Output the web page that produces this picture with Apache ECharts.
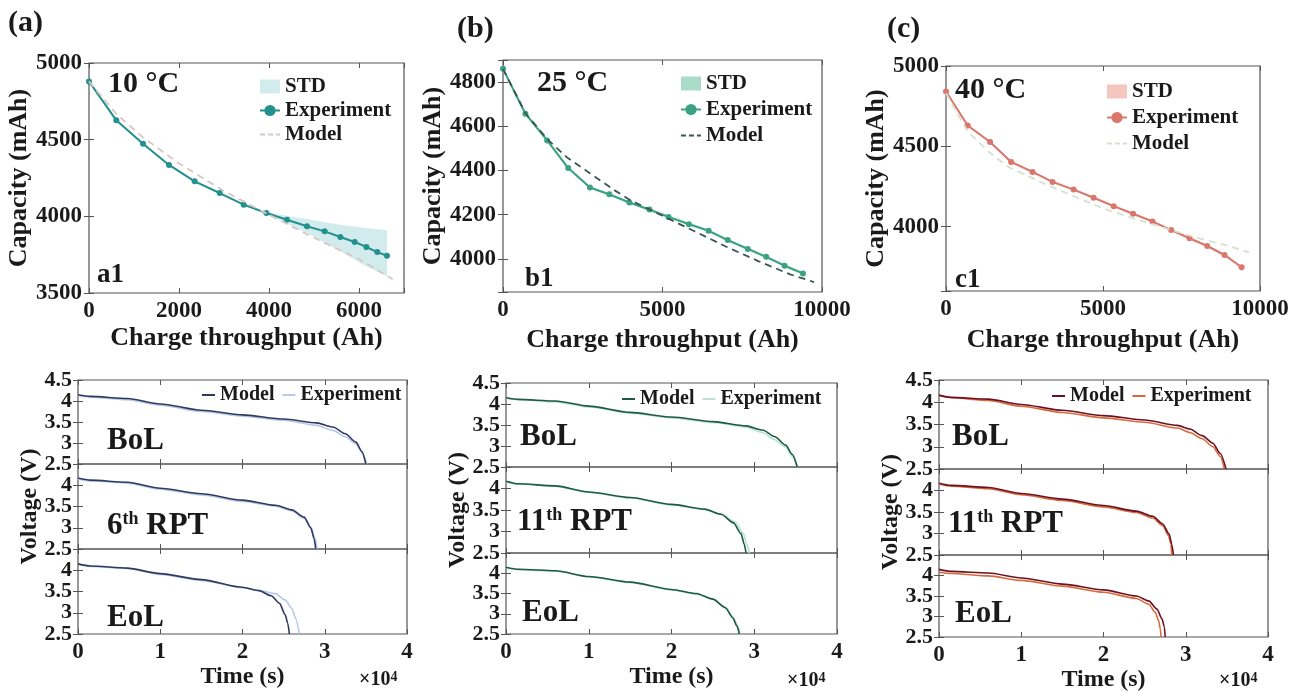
<!DOCTYPE html>
<html>
<head>
<meta charset="utf-8">
<script src="https://cdn.jsdelivr.net/npm/echarts@6/dist/echarts.min.js"></script>
<style>
html, body { margin: 0; padding: 0; background: #fff; }
#main { width: 1292px; height: 692px; }
</style>
</head>
<body>
<div id="main"></div>
<script>
// ---- capacity fade (top row) ----
var aThru = [0, 607, 1200, 1778, 2348, 2904, 3437, 3941, 4400, 4844, 5237, 5585, 5904, 6163, 6407, 6622];
var aExp = [4880, 4626, 4474, 4335, 4228, 4152, 4076, 4022, 3978, 3935, 3902, 3865, 3833, 3800, 3767, 3743];
var aStdHi = [4885, 4631, 4479, 4340, 4233, 4157, 4081, 4027, 4004, 3983, 3961, 3945, 3933, 3924, 3916, 3910];
var aStdLo = [4875, 4621, 4469, 4330, 4223, 4147, 4071, 4017, 3952, 3891, 3826, 3772, 3717, 3674, 3641, 3609];
var aModelThru = [0, 600, 1200, 2000, 3000, 4000, 5000, 6000, 6750];
var aModel = [4880, 4670, 4515, 4345, 4165, 4010, 3860, 3720, 3590];

var bThru = [0, 702, 1384, 2044, 2725, 3333, 3962, 4591, 5189, 5828, 6447, 7044, 7673, 8250, 8826, 9403];
var bExp = [4860, 4657, 4536, 4411, 4323, 4292, 4255, 4223, 4190, 4157, 4127, 4085, 4045, 4009, 3969, 3934];
var bStdHi = [4866, 4663, 4542, 4417, 4329, 4298, 4261, 4229, 4196, 4163, 4133, 4091, 4051, 4015, 3975, 3940];
var bStdLo = [4854, 4651, 4530, 4405, 4317, 4286, 4249, 4217, 4184, 4151, 4121, 4079, 4039, 4003, 3963, 3928];
var bModelThru = [0, 700, 1400, 2000, 2700, 3500, 4000, 5000, 6000, 7000, 8000, 9000, 9750];
var bModel = [4860, 4660, 4540, 4460, 4390, 4310, 4265, 4195, 4125, 4055, 3990, 3930, 3895];

var cThru = [0, 691, 1404, 2074, 2755, 3394, 4064, 4702, 5340, 5957, 6574, 7170, 7755, 8319, 8872, 9415];
var cExp = [4841, 4630, 4527, 4403, 4341, 4279, 4231, 4180, 4128, 4081, 4033, 3979, 3928, 3880, 3824, 3748];
var cStdHi = [4847, 4636, 4533, 4409, 4347, 4285, 4237, 4186, 4134, 4087, 4039, 3985, 3934, 3886, 3830, 3756];
var cStdLo = [4835, 4624, 4521, 4397, 4335, 4273, 4225, 4174, 4122, 4075, 4027, 3973, 3922, 3874, 3818, 3740];
var cModelThru = [0, 700, 1400, 2000, 3000, 4000, 5000, 6000, 7000, 8000, 9000, 9650];
var cModel = [4830, 4590, 4460, 4370, 4280, 4195, 4115, 4050, 3990, 3930, 3880, 3840];

// ---- discharge voltage (bottom row), [time (x1e4 s), V] ----
var aBoLModel = [[0,4.15],[0.15,4.11],[0.6,4.06],[1.0,3.93],[1.5,3.78],[2.0,3.67],[2.5,3.57],[2.9,3.48],[3.1,3.38],[3.25,3.22],[3.38,3.02],[3.45,2.8],[3.5,2.5]];
var aBoLExp = [[0,4.13],[0.15,4.09],[0.6,4.03],[1.0,3.9],[1.5,3.75],[2.0,3.64],[2.5,3.54],[2.9,3.42],[3.1,3.3],[3.25,3.15],[3.38,2.98],[3.46,2.75],[3.51,2.5]];
var aMidModel = [[0,4.17],[0.15,4.12],[0.6,4.07],[1.0,3.93],[1.5,3.8],[2.0,3.65],[2.4,3.53],[2.6,3.42],[2.75,3.25],[2.83,3.0],[2.87,2.75],[2.89,2.5]];
var aMidExp = [[0,4.15],[0.15,4.1],[0.6,4.05],[1.0,3.91],[1.5,3.77],[2.0,3.62],[2.4,3.51],[2.6,3.4],[2.75,3.22],[2.84,2.98],[2.88,2.75],[2.91,2.5]];
var aEoLModel = [[0,4.15],[0.15,4.1],[0.6,4.05],[1.0,3.92],[1.5,3.78],[2.0,3.6],[2.2,3.52],[2.35,3.4],[2.45,3.22],[2.52,2.95],[2.55,2.75],[2.57,2.5]];
var aEoLExp = [[0,4.14],[0.15,4.09],[0.6,4.04],[1.0,3.9],[1.5,3.76],[2.0,3.59],[2.2,3.53],[2.4,3.45],[2.52,3.3],[2.6,3.1],[2.65,2.85],[2.69,2.5]];

var bBoLModel = [[0,4.15],[0.15,4.11],[0.6,4.07],[1.0,3.95],[1.5,3.8],[2.0,3.69],[2.5,3.58],[2.9,3.48],[3.1,3.38],[3.25,3.22],[3.38,3.02],[3.46,2.8],[3.52,2.5]];
var bBoLExp = [[0,4.14],[0.15,4.1],[0.6,4.05],[1.0,3.93],[1.5,3.78],[2.0,3.67],[2.5,3.56],[2.9,3.45],[3.1,3.32],[3.25,3.15],[3.38,2.97],[3.46,2.75],[3.52,2.5]];
var bMidModel = [[0,4.17],[0.15,4.11],[0.6,4.06],[1.0,3.92],[1.5,3.79],[2.0,3.63],[2.4,3.52],[2.6,3.4],[2.75,3.2],[2.84,2.95],[2.88,2.7],[2.9,2.5]];
var bMidExp = [[0,4.16],[0.15,4.1],[0.6,4.05],[1.0,3.91],[1.5,3.78],[2.0,3.62],[2.4,3.51],[2.6,3.4],[2.77,3.22],[2.87,2.95],[2.91,2.7],[2.94,2.5]];
var bEoLModel = [[0,4.15],[0.15,4.1],[0.6,4.06],[1.0,3.92],[1.5,3.78],[2.0,3.6],[2.3,3.5],[2.5,3.36],[2.65,3.15],[2.74,2.9],[2.79,2.7],[2.82,2.5]];
var bEoLExp = [[0,4.14],[0.15,4.09],[0.6,4.05],[1.0,3.91],[1.5,3.77],[2.0,3.59],[2.3,3.49],[2.5,3.36],[2.66,3.15],[2.75,2.9],[2.8,2.7],[2.83,2.5]];

var cBoLModel = [[0,4.16],[0.15,4.11],[0.6,4.07],[1.0,3.95],[1.5,3.82],[2.0,3.7],[2.5,3.6],[2.9,3.48],[3.05,3.4],[3.2,3.25],[3.33,3.08],[3.42,2.85],[3.49,2.5]];
var cBoLExp = [[0,4.15],[0.15,4.1],[0.6,4.04],[1.0,3.91],[1.5,3.77],[2.0,3.65],[2.5,3.55],[2.9,3.42],[3.05,3.32],[3.2,3.18],[3.33,3.0],[3.42,2.78],[3.47,2.5]];
var cMidModel = [[0,4.17],[0.15,4.12],[0.6,4.07],[1.0,3.93],[1.5,3.8],[2.0,3.65],[2.4,3.52],[2.6,3.4],[2.72,3.22],[2.8,2.98],[2.83,2.75],[2.85,2.5]];
var cMidExp = [[0,4.15],[0.15,4.1],[0.6,4.04],[1.0,3.9],[1.5,3.77],[2.0,3.62],[2.4,3.49],[2.6,3.36],[2.72,3.18],[2.79,2.95],[2.82,2.75],[2.83,2.5]];
var cEoLModel = [[0,4.15],[0.15,4.1],[0.6,4.06],[1.0,3.94],[1.5,3.79],[2.0,3.65],[2.4,3.5],[2.55,3.38],[2.65,3.18],[2.71,2.95],[2.74,2.75],[2.75,2.5]];
var cEoLExp = [[0,4.08],[0.15,4.05],[0.6,3.99],[1.0,3.88],[1.5,3.74],[2.0,3.59],[2.4,3.44],[2.55,3.3],[2.63,3.1],[2.67,2.9],[2.69,2.7],[2.7,2.5]];

var FONT = 'Liberation Serif';
var INK = '#1a1a1a';
var FRAME = '#555';
var HIDDEN = { color: 'rgba(0,0,0,0)', borderColor: 'rgba(0,0,0,0)', borderWidth: 0 };

var option = {
    animation: false,
    backgroundColor: '#fff',
    textStyle: { fontFamily: FONT },
    grid: [], xAxis: [], yAxis: [], series: [], legend: [], graphic: []
};

function pairs(xs, ys) {
    return xs.map(function (x, i) { return [x, ys[i]]; });
}

function stripTag(name) { return name.split('|')[0]; }

// one boxed axes (MATLAB style): ticks inside on all four sides
function addAxes(box, xa, ya, labelAxes) {
    var gi = option.grid.length;
    option.grid.push({ left: box[0], top: box[1], width: box[2], height: box[3], show: true,
        borderColor: FRAME, borderWidth: 1.2, backgroundColor: 'transparent', outerBoundsMode: 'none' });
    function base(extra, pos) {
        var ax = { type: 'value', gridIndex: gi, position: pos, axisLine: { show: false }, splitLine: { show: false },
            axisTick: { inside: true, length: 5, lineStyle: { color: FRAME } } };
        for (var k in extra) ax[k] = extra[k];
        return ax;
    }
    function mirror(a) {
        return { min: a.min, max: a.max, interval: a.interval, minInterval: a.minInterval, maxInterval: a.maxInterval,
            axisLabel: { show: false } };
    }
    var xi = option.xAxis.length, yi = option.yAxis.length;
    option.xAxis.push(base(xa, 'bottom'));
    option.xAxis.push(base(mirror(xa), 'top'));
    option.yAxis.push(base(ya, 'left'));
    option.yAxis.push(base(mirror(ya), 'right'));
    // label-only y axes (no ticks) sharing the same range
    (labelAxes || []).forEach(function (la) {
        var ax = base(la, 'left');
        ax.axisTick = { show: false };
        option.yAxis.push(ax);
    });
    return { x: xi, y: yi };
}

function label(size, margin, fmt) {
    return { show: true, color: INK, fontFamily: FONT, fontWeight: 'bold', fontSize: size, margin: margin,
        formatter: fmt || function (v) { return String(v); },
        showMinLabel: true, showMaxLabel: true, hideOverlap: false };
}

function axisName(text, gap, size) {
    return { name: text, nameLocation: 'middle', nameGap: gap,
        nameTextStyle: { color: INK, fontFamily: FONT, fontWeight: 'bold', fontSize: size } };
}

function merge(a, b) { for (var k in b) a[k] = b[k]; return a; }

function bandSeries(name, ax, xs, lo, hi, color) {
    return { type: 'custom', name: name, xAxisIndex: ax.x, yAxisIndex: ax.y, silent: true, z: 1,
        itemStyle: { color: color }, data: pairs(xs, hi),
        renderItem: function (params, api) {
            if (params.dataIndex !== 0) return null;
            var pts = [];
            for (var i = 0; i < xs.length; i++) pts.push(api.coord([xs[i], hi[i]]));
            for (var j = xs.length - 1; j >= 0; j--) pts.push(api.coord([xs[j], lo[j]]));
            return { type: 'polygon', shape: { points: pts }, style: { fill: color } };
        } };
}

function capacityPanel(tag, box, xa, ya, d, col, legendPos) {
    var ax = addAxes(box, xa, ya);
    option.series.push(bandSeries('STD|' + tag, ax, d.thru, d.lo, d.hi, col.std));
    option.series.push({ type: 'line', name: 'Experiment|' + tag, xAxisIndex: ax.x, yAxisIndex: ax.y, z: 3,
        data: pairs(d.thru, d.exp), symbol: 'circle', symbolSize: 6, color: col.exp,
        lineStyle: { width: 2, color: col.exp }, itemStyle: { color: col.exp } });
    option.series.push({ type: 'line', name: 'Model|' + tag, xAxisIndex: ax.x, yAxisIndex: ax.y, z: 4,
        data: pairs(d.mThru, d.model), symbol: 'none', color: col.model,
        lineStyle: { width: 1.8, type: [7, 5], color: col.model } });
    option.legend.push({ orient: 'vertical', left: legendPos[0], top: legendPos[1], padding: 0,
        itemWidth: 20, itemHeight: 14, itemGap: legendPos[2], selectedMode: false, formatter: stripTag,
        textStyle: { color: INK, fontFamily: FONT, fontWeight: 'bold', fontSize: 21 },
        data: [{ name: 'STD|' + tag, icon: 'rect' },
            { name: 'Experiment|' + tag, itemStyle: { color: col.exp } },
            { name: 'Model|' + tag, itemStyle: HIDDEN, lineStyle: { type: [5, 3], width: 1.8 } }] });
}

// three stacked discharge plots sharing the time axis
function voltagePanel(tag, left, width, rows, curves, col, legendPos) {
    for (var r = 0; r < 3; r++) {
        var last = r === 2;
        var xa = { min: 0, max: 4, interval: 1,
            axisLabel: last ? label(23, 7) : { show: false } };
        if (last) merge(xa, axisName('Time (s)', 29, 24));
        var ya = { min: 2.5, max: 4.5, interval: 0.5, axisLabel: { show: false } };
        if (r === 1) merge(ya, axisName('Voltage (V)', 36, 24));
        // labels split over label-only axes so none get dropped as overlapping
        var labelAxes = [
            { min: 2.5, max: 4.5, interval: 1,
                axisLabel: merge(label(22, 6, function (v) { return v < 4 ? String(v) : ''; }), { showMaxLabel: false }) },
            { min: 2.5, max: 4.5, minInterval: 1, maxInterval: 1,
                axisLabel: merge(label(22, 6, function (v) { return v % 1 === 0 ? String(v) : ''; }),
                    { showMinLabel: false, showMaxLabel: false }) }
        ];
        if (r === 0) {
            labelAxes.push({ min: 2.5, max: 4.5, interval: 2,
                axisLabel: merge(label(22, 6, function (v) { return v >= 4.5 ? '4.5' : ''; }), { showMinLabel: false }) });
        }
        var ax = addAxes([left, rows[r], width, rows[r + 1] - rows[r]], xa, ya, labelAxes);
        option.series.push({ type: 'line', name: 'Model|' + tag, xAxisIndex: ax.x, yAxisIndex: ax.y, z: 3,
            data: curves[r][0], symbol: 'none', smooth: 0.25, smoothMonotone: 'x', color: col.model,
            lineStyle: { width: 1.6, color: col.model } });
        option.series.push({ type: 'line', name: 'Experiment|' + tag, xAxisIndex: ax.x, yAxisIndex: ax.y, z: 2,
            data: curves[r][1], symbol: 'none', smooth: 0.25, smoothMonotone: 'x', color: col.exp,
            lineStyle: { width: 1.6, color: col.exp } });
    }
    option.legend.push({ orient: 'horizontal', left: legendPos[0], top: legendPos[1], padding: 0,
        itemWidth: 13, itemHeight: 10, itemGap: 7, selectedMode: false, formatter: stripTag,
        textStyle: { color: INK, fontFamily: FONT, fontWeight: 'bold', fontSize: 20 },
        data: [{ name: 'Model|' + tag, itemStyle: HIDDEN }, { name: 'Experiment|' + tag, itemStyle: HIDDEN }] });
}

var fmtA = function (v) { return v % 2000 === 0 ? String(v) : ''; };
var fmtB = function (v) { return v % 200 === 0 ? String(v) : ''; };
var fmtC = function (v) { return v % 500 === 0 ? String(v) : ''; };

capacityPanel('a', [89, 63, 315, 230],
    merge({ min: 0, max: 7000, interval: 2000, axisLabel: label(23, 7, fmtA) }, axisName('Charge throughput (Ah)', 32, 26)),
    merge({ min: 3500, max: 5000, interval: 500, axisLabel: label(23, 7) }, axisName('Capacity (mAh)', 56, 26)),
    { thru: aThru, exp: aExp, lo: aStdLo, hi: aStdHi, mThru: aModelThru, model: aModel },
    { std: '#d2ecee', exp: '#22908c', model: '#d9c6c4' }, [259, 76, 3]);

capacityPanel('b', [503, 60, 319, 232],
    merge({ min: 0, max: 10000, interval: 5000, axisLabel: label(23, 7) }, axisName('Charge throughput (Ah)', 35, 26)),
    merge({ min: 3850, max: 4900, minInterval: 200, maxInterval: 200, axisLabel: label(23, 7, fmtB) }, axisName('Capacity (mAh)', 55, 26)),
    { thru: bThru, exp: bExp, lo: bStdLo, hi: bStdHi, mThru: bModelThru, model: bModel },
    { std: '#a9dcc9', exp: '#3aa283', model: '#3b5552' }, [680, 73, 5]);

capacityPanel('c', [946, 66, 314, 225],
    merge({ min: 0, max: 10000, interval: 5000, axisLabel: label(23, 7) }, axisName('Charge throughput (Ah)', 36, 26)),
    merge({ min: 3600, max: 5000, minInterval: 500, maxInterval: 500, axisLabel: label(23, 7, fmtC) }, axisName('Capacity (mAh)', 56, 26)),
    { thru: cThru, exp: cExp, lo: cStdLo, hi: cStdHi, mThru: cModelThru, model: cModel },
    { std: '#f5c6bf', exp: '#da766b', model: '#d4e2cd' }, [1106, 81, 5]);

voltagePanel('va', 78, 329, [380, 464, 549, 634],
    [[aBoLModel, aBoLExp], [aMidModel, aMidExp], [aEoLModel, aEoLExp]],
    { model: '#2f3b5e', exp: '#b7c8e8' }, [201, 385]);
voltagePanel('vb', 506, 331, [383, 467, 553, 634],
    [[bBoLModel, bBoLExp], [bMidModel, bMidExp], [bEoLModel, bEoLExp]],
    { model: '#1e5a44', exp: '#b7e2cf' }, [621, 389]);
voltagePanel('vc', 939, 329, [380, 469, 555, 637],
    [[cBoLModel, cBoLExp], [cMidModel, cMidExp], [cEoLModel, cEoLExp]],
    { model: '#6e1020', exp: '#d66a3f' }, [1051, 386]);

// ---- text annotations ----
function txt(x, y, text, size) {
    option.graphic.push({ type: 'text', left: x, top: y, z: 10,
        style: { text: text, fill: INK, font: 'bold ' + size + 'px "' + FONT + '"' } });
}
function supTxt(x, y, a, s, b, size, sSize) {
    option.graphic.push({ type: 'text', left: x, top: y, z: 10,
        style: { text: '{n|' + a + '}{s|' + s + '}{n|' + b + '}', fill: INK,
            rich: {
                n: { fontFamily: FONT, fontWeight: 'bold', fontSize: size, lineHeight: size, fill: INK },
                s: { fontFamily: FONT, fontWeight: 'bold', fontSize: sSize, lineHeight: sSize, verticalAlign: 'top', fill: INK }
            } } });
}

txt(8, 8, '(a)', 30); txt(457, 14, '(b)', 30); txt(887, 14, '(c)', 30);
txt(108, 69, '10 °C', 30); txt(537, 68, '25 °C', 30); txt(955, 75, '40 °C', 30);
txt(97, 262, 'a1', 27); txt(525, 266, 'b1', 27); txt(955, 267, 'c1', 27);

txt(107, 425, 'BoL', 31); supTxt(107, 510, '6', 'th', ' RPT', 31, 18); txt(107, 602, 'EoL', 31);
txt(520, 421, 'BoL', 31); supTxt(517, 506, '11', 'th', ' RPT', 31, 18); txt(522, 597, 'EoL', 31);
txt(952, 421, 'BoL', 31); supTxt(948, 508, '11', 'th', ' RPT', 31, 18); txt(955, 598, 'EoL', 31);

supTxt(359, 670, '×10', '4', '', 20, 14);
supTxt(787, 671, '×10', '4', '', 20, 14);
supTxt(1219, 671, '×10', '4', '', 20, 14);

var myChart = echarts.init(document.getElementById('main'));
myChart.setOption(option);
window.addEventListener('resize', function () { myChart.resize(); });
</script>
</body>
</html>
